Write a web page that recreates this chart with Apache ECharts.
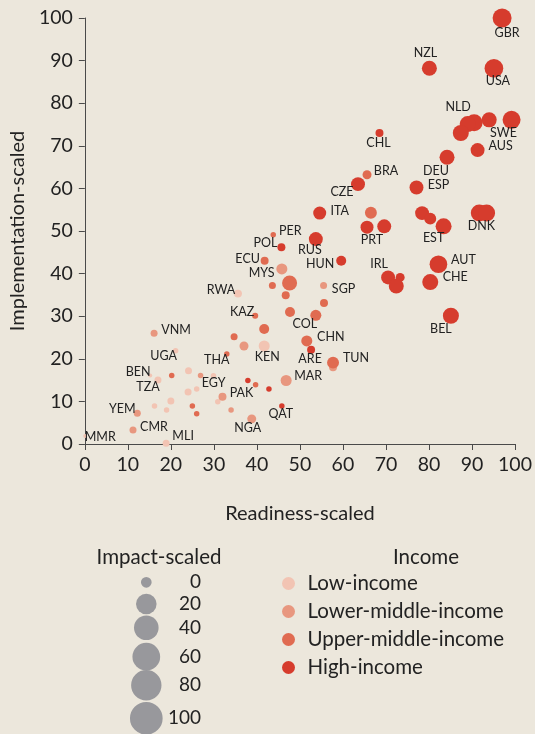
<!DOCTYPE html>
<html>
<head>
<meta charset="utf-8">
<script src="https://cdn.jsdelivr.net/npm/echarts@6/dist/echarts.min.js"></script>
<style>
  html, body { margin: 0; padding: 0; background: #ece7dc; }
  #chart { width: 535px; height: 734px; }
</style>
</head>
<body>
<div id="chart"></div>
<script>
// Country codes ('' = point drawn without a label)
const codes = [
  'GBR','USA','NZL','SWE','','NLD','','','AUS','DEU','CHL','CZE','ESP','ITA','','','EST','DNK','','PRT','','RUS','POL','HUN','IRL','','','AUT','CHE','BEL','ARE','','','QAT',
  'BRA','','PER','ECU','MYS','','','','KAZ','','COL','','','CHN','THA','TUN','','','','',
  '','SGP','','MAR','','PAK','','NGA','VNM','','YEM','CMR',
  'RWA','KEN','UGA','BEN','TZA','','','','EGY','','','','','MMR','MLI'
];
const readiness = [
  97.0,95.1,80.1,99.2,94.0,90.5,89.0,87.4,91.3,84.2,68.5,63.5,77.1,54.6,78.4,80.3,83.4,91.7,93.4,65.6,69.6,53.7,45.7,59.6,70.5,73.3,72.4,82.2,80.3,85.1,52.6,37.9,42.8,45.8,
  65.6,66.5,43.8,41.8,47.6,43.6,46.7,55.6,39.6,47.7,53.7,41.7,34.7,51.6,33.0,57.7,39.7,20.2,25.0,26.0,
  45.8,55.5,37.0,46.8,57.7,32.0,34.0,38.8,16.1,26.9,12.2,11.2,
  35.6,41.7,21.1,15.2,17.0,24.1,29.9,24.0,26.0,30.9,20.0,16.2,19.0,0.1,18.9
];
const implementation = [
  100,88.2,88.2,76.1,76.1,75.4,75.1,73.0,69.0,67.3,73.0,61.0,60.2,54.2,54.2,52.9,51.1,54.2,54.2,50.9,51.1,48.1,46.2,43.0,39.1,39.1,37.1,42.2,38.0,30.1,22.1,14.9,12.9,8.9,
  63.2,54.3,49.1,43.0,37.8,37.2,34.9,33.1,30.1,31.0,30.2,27.0,25.2,24.2,21.1,19.1,13.9,16.1,8.9,7.1,
  41.1,37.2,23.0,14.9,18.0,11.1,8.0,5.9,26.0,16.1,7.2,3.3,
  35.3,23.0,21.9,16.1,15.0,17.2,16.0,12.2,12.9,9.9,10.1,8.9,8.0,1.9,0.2
];
const impact = [
  100,96,54,87,54,75,64,64,44,54,7,44,44,36,44,28,64,75,75,36,44,44,7,16,44,11,54,83,64,64,7,1,1,1,
  11,28,1,7,54,4,7,7,2,16,22,16,4,22,1,28,1,1,1,1,
  22,4,11,22,7,7,1,11,4,1,4,4,
  7,22,1,0,4,4,1,4,1,1,4,1,1,0,4
];
const incomeGroup = [
  'H','H','H','H','H','H','H','H','H','H','H','H','H','H','H','H','H','H','H','H','H','H','H','H','H','H','H','H','H','H','H','H','H','H',
  'UM','UM','UM','UM','UM','UM','UM','UM','UM','UM','UM','UM','UM','UM','UM','UM','UM','UM','UM','UM',
  'LM','LM','LM','LM','LM','LM','LM','LM','LM','LM','LM','LM',
  'L','L','L','L','L','L','L','L','L','L','L','L','L','L','L'
];
const incomeKeys = ['L', 'LM', 'UM', 'H'];
const incomeNames = ['Low-income', 'Lower-middle-income', 'Upper-middle-income', 'High-income'];
const axisTicks = [0, 10, 20, 30, 40, 50, 60, 70, 80, 90, 100];
const sizeLegendValues = [0, 20, 40, 60, 80, 100];

// Styling
const incomeColors = { L: '#f2c4b3', LM: '#e8977f', UM: '#e06b51', H: '#d63c2d' };
const textColor = '#222222';
const fontFamily = 'Lato, "DejaVu Sans", sans-serif';
// label offsets (px) from the bubble centre
const labelOffset = {
  GBR:[5,15], NZL:[-4,-15], USA:[4,13], NLD:[-16,-16], SWE:[-8,13], AUS:[23,-4], CHL:[-1,10],
  BRA:[19,-4], CZE:[-16,8], DEU:[-11,14], ESP:[22,-3], ITA:[20,-2], EST:[-10,12], DNK:[2,13],
  PRT:[5,13], RUS:[-6,11], POL:[-16,-4], PER:[17,-4], ECU:[-17,-2], MYS:[-28,-10], HUN:[-21,3],
  IRL:[-9,-13], AUT:[25,-4], CHE:[25,-5], SGP:[20,3], RWA:[-17,-4], KAZ:[-13,-4], COL:[-11,9],
  BEL:[-10,13], VNM:[22,-3], CHN:[24,-4], KEN:[3,11], ARE:[-1,9], UGA:[-12,5], THA:[-10,6],
  TUN:[23,-5], MAR:[22,-5], BEN:[-12,-3], TZA:[-10,7], EGY:[17,-6], PAK:[19,-4], YEM:[-15,-4],
  QAT:[-1,8], NGA:[-4,9], CMR:[21,-3], MMR:[15,1], MLI:[17,-7]
};
const bubbleSize = v => 4 + 15 * Math.sqrt(v / 100);
const legendBubbleSize = v => 10.7 + 22 * Math.sqrt(v / 100);
const sizeLegendY = [582.3, 604, 627.7, 656.7, 685.3, 718.3];

const series = incomeKeys.map((key, gi) => {
  const data = [];
  codes.forEach((code, i) => {
    if (incomeGroup[i] !== key) return;
    const item = { value: [readiness[i], implementation[i], impact[i]], name: code };
    if (code) {
      item.label = { show: true, formatter: code, position: 'inside', offset: labelOffset[code] || [0, 0] };
    }
    data.push(item);
  });
  return {
    name: incomeNames[gi],
    type: 'scatter',
    data: data,
    clip: false,
    symbolSize: v => bubbleSize(v[2]),
    itemStyle: { color: incomeColors[key], opacity: 1 },
    label: { show: false, color: textColor, fontFamily: fontFamily, fontSize: 12.5 },
    emphasis: { disabled: true },
    z: 2 + gi
  };
});

const graphics = [
  { type: 'text', x: 159, y: 557, style: { text: 'Impact-scaled', x: 0, y: 0, align: 'center', verticalAlign: 'middle', fill: textColor, font: '20.5px ' + fontFamily } },
  { type: 'text', x: 426, y: 557, style: { text: 'Income', x: 0, y: 0, align: 'center', verticalAlign: 'middle', fill: textColor, font: '20.5px ' + fontFamily } }
];
sizeLegendValues.forEach((v, i) => {
  graphics.push({ type: 'circle', shape: { cx: 146.3, cy: sizeLegendY[i], r: legendBubbleSize(v) / 2 }, style: { fill: '#98989c' } });
  graphics.push({ type: 'text', x: 201, y: sizeLegendY[i], style: { text: String(v), x: 0, y: 0, align: 'right', verticalAlign: 'middle', fill: textColor, font: '19px ' + fontFamily } });
});

const axisCommon = {
  type: 'value', min: axisTicks[0], max: axisTicks[axisTicks.length - 1], interval: axisTicks[1] - axisTicks[0],
  splitLine: { show: false },
  axisLine: { show: true, lineStyle: { color: '#4a4a4a', width: 1 } },
  axisTick: { show: true, length: 6, lineStyle: { color: '#4a4a4a' } },
  axisLabel: { color: textColor, fontFamily: fontFamily, fontSize: 19.5 },
  nameLocation: 'middle',
  nameTextStyle: { color: textColor, fontFamily: fontFamily, fontSize: 20 }
};

const chart = echarts.init(document.getElementById('chart'), null, { renderer: 'canvas' });
chart.setOption({
  backgroundColor: '#ece7dc',
  animation: false,
  grid: { left: 83.5, right: 20, top: 18, bottom: 290, containLabel: false },
  xAxis: Object.assign({}, axisCommon, { name: 'Readiness-scaled', nameGap: 60, axisLabel: Object.assign({}, axisCommon.axisLabel, { margin: 11 }) }),
  yAxis: Object.assign({}, axisCommon, { name: 'Implementation-scaled', nameGap: 45, axisLabel: Object.assign({}, axisCommon.axisLabel, { margin: 12 }) }),
  legend: {
    orient: 'vertical', left: 277, top: 568,
    itemWidth: 28, itemHeight: 13, itemGap: 7.0, icon: 'circle',
    selectedMode: false,
    data: incomeNames,
    textStyle: { color: textColor, fontFamily: fontFamily, fontSize: 20.5, lineHeight: 20 }
  },
  graphic: graphics,
  series: series
});
</script>
</body>
</html>
